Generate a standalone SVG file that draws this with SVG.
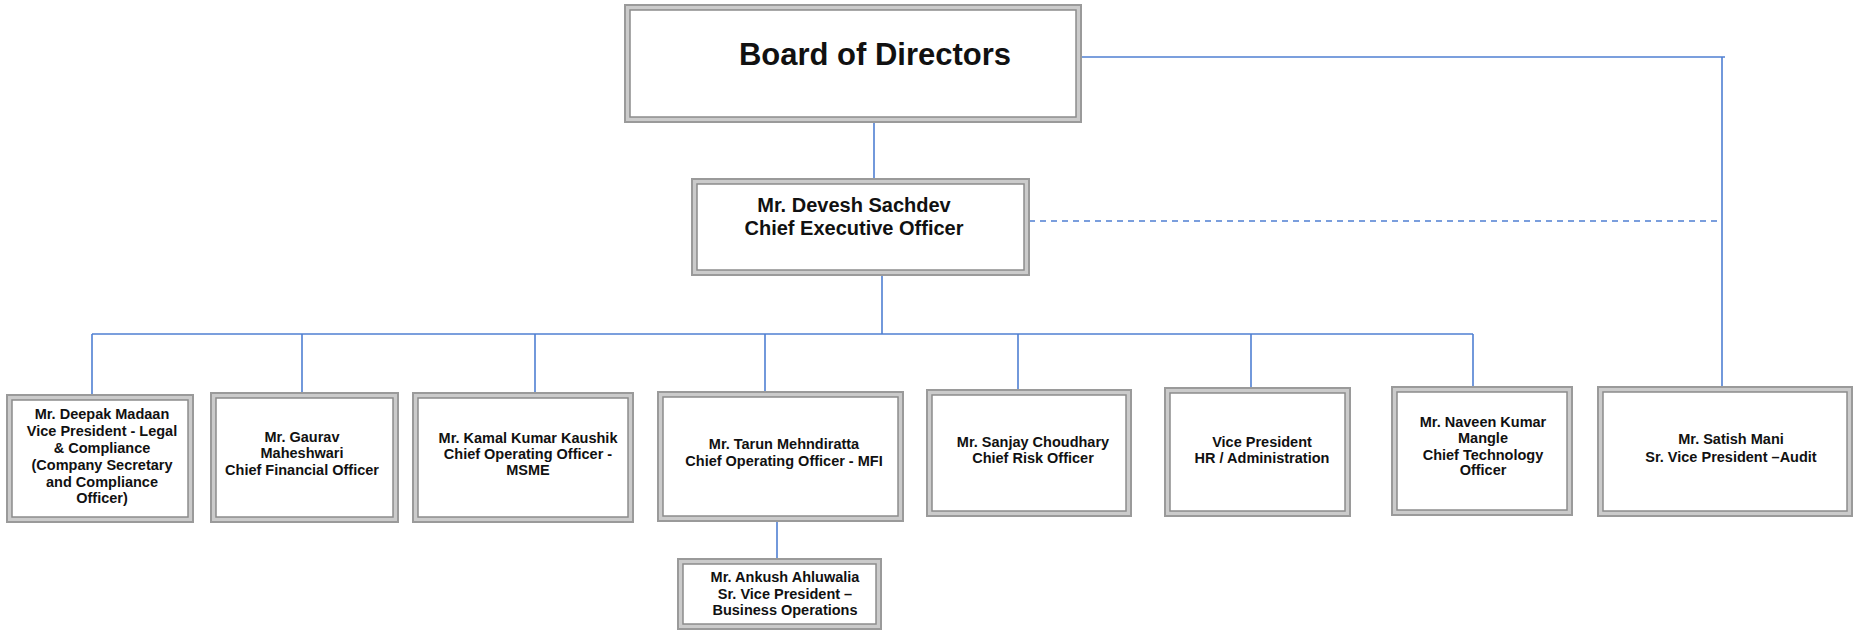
<svg xmlns="http://www.w3.org/2000/svg" width="1857" height="630" viewBox="0 0 1857 630">
<style>
.bo{fill:#cbcbcb;stroke:#9a9a9a;stroke-width:2}
.bi{fill:#ffffff;stroke:#8c8c8c;stroke-width:1.5}
.t{font-family:"Liberation Sans",Arial,sans-serif;font-weight:bold;font-size:14.5px;fill:#111;text-anchor:middle}
.c{stroke:#4f7fd2;stroke-width:1.6;fill:none}
.d{stroke-dasharray:6 5}
</style>
<rect width="1857" height="630" fill="#ffffff"/>
<g id="connectors">
<line class="c" x1="874" y1="122" x2="874" y2="179"/>
<line class="c" x1="882" y1="275" x2="882" y2="334"/>
<line class="c" x1="92" y1="334" x2="1473" y2="334"/>
<line class="c" x1="92" y1="334" x2="92" y2="395"/>
<line class="c" x1="302" y1="334" x2="302" y2="393"/>
<line class="c" x1="535" y1="334" x2="535" y2="393"/>
<line class="c" x1="765" y1="334" x2="765" y2="392"/>
<line class="c" x1="1018" y1="334" x2="1018" y2="390"/>
<line class="c" x1="1251" y1="334" x2="1251" y2="388"/>
<line class="c" x1="1473" y1="334" x2="1473" y2="387"/>
<line class="c" x1="777" y1="521" x2="777" y2="559"/>
<line class="c" x1="1081" y1="57" x2="1725" y2="57"/>
<line class="c" x1="1722" y1="57" x2="1722" y2="387"/>
<line class="c d" x1="1029" y1="221" x2="1722" y2="221"/>
</g>
<g id="board">
<rect class="bo" x="625" y="5" width="456" height="117"/>
<rect class="bi" x="630" y="10" width="446" height="107"/>
<text class="t" x="875" y="65" style="font-size:31px">Board of Directors</text>
</g>
<g id="ceo">
<rect class="bo" x="692" y="179" width="337" height="96"/>
<rect class="bi" x="697" y="184" width="327" height="86"/>
<text class="t" x="854" y="212" style="font-size:20px">Mr. Devesh Sachdev</text>
<text class="t" x="854" y="235" style="font-size:20px">Chief Executive Officer</text>
</g>
<g id="deepak">
<rect class="bo" x="7" y="395" width="186" height="127"/>
<rect class="bi" x="12" y="400" width="176" height="117"/>
<text class="t" x="102" y="419">Mr. Deepak Madaan</text>
<text class="t" x="102" y="436">Vice President - Legal</text>
<text class="t" x="102" y="453">&amp; Compliance</text>
<text class="t" x="102" y="470">(Company Secretary</text>
<text class="t" x="102" y="487">and Compliance</text>
<text class="t" x="102" y="503">Officer)</text>
</g>
<g id="gaurav">
<rect class="bo" x="211" y="393" width="187" height="129"/>
<rect class="bi" x="216" y="398" width="177" height="119"/>
<text class="t" x="302" y="442">Mr. Gaurav</text>
<text class="t" x="302" y="458">Maheshwari</text>
<text class="t" x="302" y="475">Chief Financial Officer</text>
</g>
<g id="kamal">
<rect class="bo" x="413" y="393" width="220" height="129"/>
<rect class="bi" x="418" y="398" width="210" height="119"/>
<text class="t" x="528" y="443">Mr. Kamal Kumar Kaushik</text>
<text class="t" x="528" y="459">Chief Operating Officer -</text>
<text class="t" x="528" y="475">MSME</text>
</g>
<g id="tarun">
<rect class="bo" x="658" y="392" width="245" height="129"/>
<rect class="bi" x="663" y="397" width="235" height="119"/>
<text class="t" x="784" y="449">Mr. Tarun Mehndiratta</text>
<text class="t" x="784" y="466">Chief Operating Officer - MFI</text>
</g>
<g id="ankush">
<rect class="bo" x="678" y="559" width="203" height="70"/>
<rect class="bi" x="683" y="564" width="193" height="60"/>
<text class="t" x="785" y="582">Mr. Ankush Ahluwalia</text>
<text class="t" x="785" y="599">Sr. Vice President –</text>
<text class="t" x="785" y="615">Business Operations</text>
</g>
<g id="sanjay">
<rect class="bo" x="927" y="390" width="204" height="126"/>
<rect class="bi" x="932" y="395" width="194" height="116"/>
<text class="t" x="1033" y="447">Mr. Sanjay Choudhary</text>
<text class="t" x="1033" y="463">Chief Risk Officer</text>
</g>
<g id="vphr">
<rect class="bo" x="1165" y="388" width="185" height="128"/>
<rect class="bi" x="1170" y="393" width="175" height="118"/>
<text class="t" x="1262" y="447">Vice President</text>
<text class="t" x="1262" y="463">HR / Administration</text>
</g>
<g id="naveen">
<rect class="bo" x="1392" y="387" width="180" height="128"/>
<rect class="bi" x="1397" y="392" width="170" height="118"/>
<text class="t" x="1483" y="427">Mr. Naveen Kumar</text>
<text class="t" x="1483" y="443">Mangle</text>
<text class="t" x="1483" y="460">Chief Technology</text>
<text class="t" x="1483" y="475">Officer</text>
</g>
<g id="satish">
<rect class="bo" x="1598" y="387" width="254" height="129"/>
<rect class="bi" x="1603" y="392" width="244" height="119"/>
<text class="t" x="1731" y="444">Mr. Satish Mani</text>
<text class="t" x="1731" y="462">Sr. Vice President –Audit</text>
</g>
</svg>
